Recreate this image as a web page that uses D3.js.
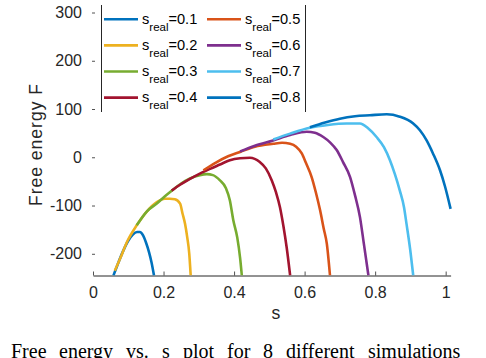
<!DOCTYPE html>
<html>
<head>
  <meta charset="utf-8">
  <title>free energy vs s</title>
  <script src="https://cdn.jsdelivr.net/npm/d3@7"></script>
  <style>
    body{ margin:0; background:#fff; }
    text{ font-family:"Liberation Sans", Arial, sans-serif; }
  </style>
</head>
<body>
<div id="container"></div>
<script>
  // s_real values, one curve each
  var sReal = [0.1, 0.2, 0.3, 0.4, 0.5, 0.6, 0.7, 0.8];
  var colors = ["#0072BD", "#EDB120", "#77AC30", "#A2142F", "#D95319", "#7E2F8E", "#4DBEEE", "#0072BD"];

  // [s, F] points
  var c01 = [[0.058,-245],[0.071,-220],[0.085,-195],[0.099,-174],[0.113,-160],[0.125,-155],[0.133,-155],[0.142,-162],[0.150,-176],[0.159,-197],[0.166,-218],[0.173,-245]];
  var c02 = [[0.062,-235],[0.077,-210],[0.096,-176],[0.124,-141],[0.153,-112],[0.181,-93],[0.204,-86],[0.218,-86],[0.232,-87],[0.247,-96],[0.254,-117],[0.261,-138],[0.267,-165],[0.273,-200],[0.277,-245]];
  var c03 = [[0.124,-141],[0.153,-112],[0.181,-96],[0.204,-81],[0.224,-69],[0.247,-56],[0.275,-44],[0.303,-37],[0.323,-35],[0.340,-37],[0.360,-48],[0.377,-64],[0.388,-89],[0.398,-131],[0.409,-166],[0.417,-208],[0.422,-245]];
  var c04 = [[0.223,-69],[0.247,-57],[0.275,-45],[0.303,-34],[0.332,-24],[0.360,-15],[0.388,-6],[0.417,-2],[0.445,-1],[0.473,-10],[0.490,-23],[0.507,-48],[0.519,-73],[0.530,-103],[0.540,-143],[0.549,-186],[0.559,-245]];
  var c05 = [[0.313,-27],[0.346,-12],[0.383,2],[0.417,11],[0.459,22],[0.511,28],[0.536,30],[0.559,28],[0.576,22],[0.592,8],[0.604,-12],[0.620,-41],[0.632,-73],[0.644,-110],[0.654,-147],[0.663,-179],[0.672,-245]];
  var c06 = [[0.417,12],[0.459,24],[0.511,35],[0.559,46],[0.606,53],[0.629,51],[0.653,42],[0.672,31],[0.691,15],[0.709,-10],[0.729,-41],[0.743,-79],[0.757,-124],[0.768,-179],[0.781,-245]];
  var c07 = [[0.511,37],[0.559,49],[0.615,61],[0.666,67],[0.719,70],[0.757,70],[0.780,60],[0.804,42],[0.825,21],[0.842,-6],[0.856,-35],[0.870,-69],[0.882,-104],[0.889,-138],[0.899,-189],[0.908,-245]];
  var c08 = [[0.615,62],[0.658,72],[0.700,80],[0.743,85],[0.785,87],[0.833,89],[0.870,84],[0.908,70],[0.927,56],[0.946,35],[0.964,8],[0.984,-27],[0.998,-60],[1.014,-107]];
  var curves = [c01, c02, c03, c04, c05, c06, c07, c08];

  var xTicks = [0, 0.2, 0.4, 0.6, 0.8, 1];
  var yTicks = [-200, -100, 0, 100, 200, 300];
  var caption = ["Free", "energy", "vs.", "s", "plot", "for", "8", "different", "simulations"];
  var captionX = [11, 59, 126, 162, 183, 227, 263, 286, 368];

  var width = 486, height = 358;
  var axCol = "#262626";

  var svg = d3.select("#container").append("svg")
      .attr("width", width)
      .attr("height", height);

  var xScale = d3.scaleLinear().domain([0, 1.014]).range([93, 450.6]);
  var yScale = d3.scaleLinear().domain([-245, 300]).range([275.5, 12.5]);

  svg.append("clipPath").attr("id", "plotclip")
    .append("rect")
      .attr("x", xScale(0)).attr("y", 0)
      .attr("width", xScale(1.014) - xScale(0) + 3)
      .attr("height", yScale(-245));

  // plain hyphen minus like the original
  var fmt = function(d) { return String(d); };

  // x axis, ticks pointing inside
  var xAxis = d3.axisBottom(xScale).tickValues(xTicks).tickSizeInner(-4).tickSizeOuter(0)
      .tickPadding(11).tickFormat(fmt);
  var gx = svg.append("g")
      .attr("transform", "translate(0," + yScale(-245) + ")")
      .call(xAxis);
  gx.selectAll(".domain").attr("stroke", axCol).attr("stroke-width", 1);
  gx.selectAll(".tick line").attr("stroke", axCol).attr("stroke-width", 0.8);
  gx.selectAll(".tick text").attr("fill", axCol).style("font-size", "16px");

  // y axis: no spine in the picture, just small tick marks
  var yAxis = d3.axisLeft(yScale).tickValues(yTicks).tickSizeInner(-3).tickSizeOuter(0)
      .tickPadding(10).tickFormat(fmt);
  var gy = svg.append("g")
      .attr("transform", "translate(" + (xScale(0) - 1) + ",0)")
      .call(yAxis);
  gy.select(".domain").remove();
  gy.selectAll(".tick line").attr("stroke", axCol).attr("stroke-width", 0.8);
  gy.selectAll(".tick text").attr("fill", axCol).style("font-size", "16px");

  svg.append("text")
      .text("s")
      .attr("x", 276)
      .attr("y", 319)
      .attr("text-anchor", "middle")
      .attr("fill", axCol)
      .style("font-size", "17.6px");

  svg.append("text")
      .text("Free energy F")
      .attr("transform", "translate(42,145) rotate(-90)")
      .attr("text-anchor", "middle")
      .attr("fill", axCol)
      .attr("textLength", 122)
      .style("font-size", "17.6px");

  var line = d3.line()
      .x(function(d) { return xScale(d[0]); })
      .y(function(d) { return yScale(d[1]); })
      .curve(d3.curveMonotoneX);

  var plot = svg.append("g").attr("clip-path", "url(#plotclip)");
  for (var i = 0; i < curves.length; i++) {
    plot.append("path")
      .datum(curves[i])
      .attr("d", line)
      .attr("fill", "none")
      .attr("stroke", colors[i])
      .attr("stroke-width", 2.6)
      .attr("stroke-linejoin", "round");
  }

  // legend, two columns, only side borders show
  var leg = svg.append("g");
  leg.append("line").attr("x1", 101.5).attr("x2", 101.5).attr("y1", 5).attr("y2", 112).attr("stroke", axCol).attr("stroke-width", 1);
  leg.append("line").attr("x1", 305.5).attr("x2", 305.5).attr("y1", 5).attr("y2", 112).attr("stroke", axCol).attr("stroke-width", 1);

  sReal.forEach(function(r, i) {
    var col = Math.floor(i / 4), row = i % 4;
    var lx = col == 0 ? 104 : 207;
    var ly = 19.3 + row * 26.1;
    leg.append("line")
      .attr("x1", lx).attr("x2", lx + 34)
      .attr("y1", ly).attr("y2", ly)
      .attr("stroke", colors[i])
      .attr("stroke-width", 2.6);
    var t = leg.append("text")
      .attr("x", lx + 38)
      .attr("y", ly + 4.5)
      .attr("fill", "#000")
      .style("font-size", "14.6px");
    t.append("tspan").text("s");
    t.append("tspan").text("real").attr("dy", 7).style("font-size", "11.5px");
    t.append("tspan").text("=" + r).attr("dy", -7);
  });

  // caption below the figure, cut off by the image edge as in the original
  caption.forEach(function(w, i) {
    svg.append("text")
      .text(w)
      .attr("x", captionX[i])
      .attr("y", 358)
      .attr("fill", "#000")
      .style("font-family", "'Liberation Serif', 'Times New Roman', serif")
      .style("font-size", "20px");
  });
</script>
</body>
</html>
